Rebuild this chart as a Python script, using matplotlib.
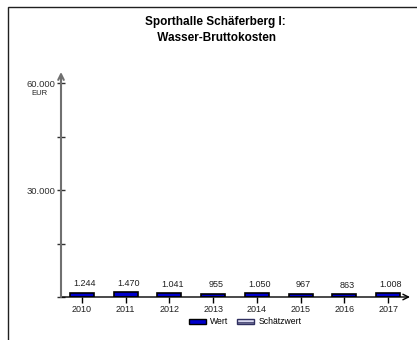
import matplotlib
matplotlib.use("Agg")
from matplotlib import pyplot as plt
from matplotlib.patches import Rectangle

jahre = ["2010", "2011", "2012", "2013", "2014", "2015", "2016", "2017"]
werte = [1244, 1470, 1041, 955, 1050, 967, 863, 1008]
wert_labels = ["1.244", "1.470", "1.041", "955", "1.050", "967", "863", "1.008"]
y_ticks = [0, 15000, 30000, 45000, 60000]
y_labels = ["", "", "30.000", "", "60.000"]

plt.rcParams["font.family"] = ["Liberation Sans", "DejaVu Sans"]

fig = plt.figure(figsize=(4.17, 3.40), dpi=100)
# Rahmen
fig.patches.append(Rectangle((8 / 417, -0.1), 1.2, (340 - 7) / 340 + 0.1,
                             transform=fig.transFigure, fill=False,
                             edgecolor="#202020", linewidth=1.0))

ax = fig.add_axes([61 / 417, 43 / 340, (410 - 61) / 417, (297 - 72) / 340])
x = list(range(len(jahre)))
ax.bar(x, werte, width=0.55, color="#0000cc", edgecolor="black", linewidth=1.2)
for xi, v, lab in zip(x, werte, wert_labels):
    ax.annotate(lab, (xi, v), xytext=(2, 3), textcoords="offset points",
                ha="center", va="bottom", fontsize=6.5, color="#202020")

ax.set_xlim(-0.48, 7.5)
ax.set_ylim(0, 63100)
for s in ax.spines.values():
    s.set_visible(False)

# Achsen mit Pfeilen
ax.annotate("", xy=(1.0, 0), xytext=(0, 0), xycoords="axes fraction",
            arrowprops=dict(arrowstyle="->", color="black", lw=1.0,
                            shrinkA=0, shrinkB=0))
ax.annotate("", xy=(0, 1.0), xytext=(0, 0), xycoords="axes fraction",
            arrowprops=dict(arrowstyle="->", color="#707070", lw=1.5,
                            shrinkA=0, shrinkB=0))

ax.set_xticks(x)
ax.set_xticklabels(jahre, fontsize=6.5, color="#202020")
ax.tick_params(axis="x", length=4, width=1, color="black", direction="out", pad=2)
ax.set_yticks(y_ticks)
ax.set_yticklabels(y_labels, fontsize=6.8, color="#303030")
ax.tick_params(axis="y", length=6, width=1, color="#303030", direction="inout", pad=1)
ax.annotate("EUR", (0, 60000), xycoords=ax.get_yaxis_transform(),
            xytext=(-15.5, -5), textcoords="offset points",
            ha="center", va="top", fontsize=5.5, color="#202020")

fig.text(215 / 417, 1 - 30 / 340, "Sporthalle Schäferberg I:\n Wasser-Bruttokosten",
         ha="center", va="center", fontsize=8.5, fontweight="bold",
         linespacing=1.4)

# Legende
leg = fig.legend(handles=[Rectangle((0, 0), 1, 1, facecolor="#0000cc", edgecolor="black"),
                          Rectangle((0, 0), 1, 1, facecolor="#d8d8f0", edgecolor="#303060",
                                    hatch="----")],
                 labels=["Wert", "Schätzwert"], loc="center",
                 bbox_to_anchor=(245 / 417, 1 - 322 / 340), ncol=2, frameon=False,
                 fontsize=6.2, handlelength=2.0, handleheight=0.6,
                 columnspacing=1.0, handletextpad=0.5)

fig.savefig("out.png", dpi=100)
